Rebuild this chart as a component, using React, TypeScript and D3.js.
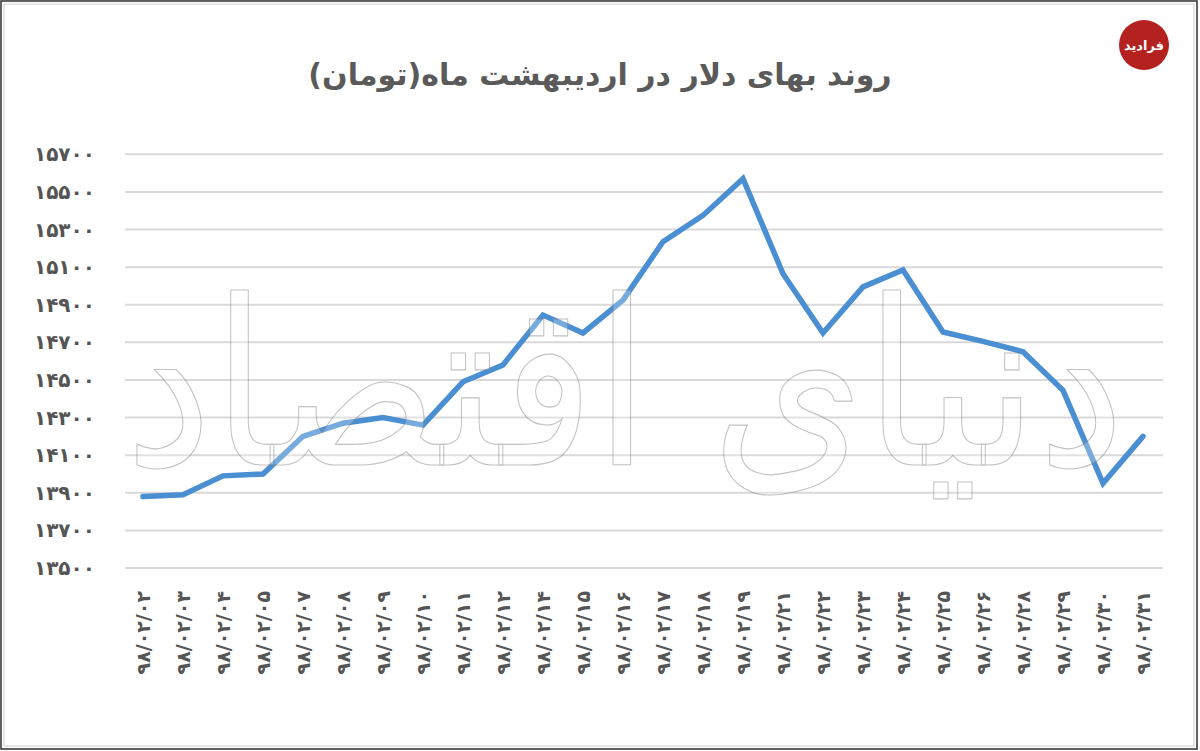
import React from "react";
import * as d3 from "d3";

const title = "روند بهای دلار در اردیبهشت ماه(تومان)";
const dates = [
  "98/02/02", "98/02/03", "98/02/04", "98/02/05", "98/02/07", "98/02/08", "98/02/09",
  "98/02/10", "98/02/11", "98/02/12", "98/02/14", "98/02/15", "98/02/16", "98/02/17",
  "98/02/18", "98/02/19", "98/02/21", "98/02/22", "98/02/23", "98/02/24", "98/02/25",
  "98/02/26", "98/02/28", "98/02/29", "98/02/30", "98/02/31",
];
const prices = [
  13880, 13890, 13990, 14000, 14200, 14270, 14300, 14260, 14490, 14580, 14845, 14750, 14925,
  15235, 15375, 15570, 15065, 14750, 14995, 15085, 14755, 14705, 14650, 14445, 13950, 14200,
];
const yTicks = [13500, 13700, 13900, 14100, 14300, 14500, 14700, 14900, 15100, 15300, 15500, 15700];

const W = 1200;
const H = 751;

const fa = (s: string | number) =>
  String(s).replace(/[0-9]/g, (d) => String.fromCharCode(0x06f0 + Number(d)));

export default function App() {
  const x = d3.scalePoint<string>().domain(dates).range([143, 1143]);
  const y = d3.scaleLinear().domain([13500, 15700]).range([568, 154.3]);
  const line = d3
    .line<number>()
    .x((_, i) => x(dates[i]) as number)
    .y((v) => y(v));

  const font = "'DejaVu Sans', sans-serif";

  return (
    <div style={{ position: "absolute", left: 0, top: 0 }}>
      <svg width={W} height={H} viewBox={`0 0 ${W} ${H}`} style={{ display: "block", background: "#fff" }}>
        <rect x={0} y={0} width={W} height={H} fill="#fff" />
        {/* frame */}
        <rect x={1} y={1} width={1196} height={748} fill="none" stroke="#3a3a3a" strokeWidth={1.6} />
        <rect x={4} y={4} width={1190} height={742} fill="none" stroke="#cfcfcf" strokeWidth={1} />

        {/* title */}
        <text
          x={600}
          y={85}
          textAnchor="middle"
          direction="rtl"
          fontFamily={font}
          fontWeight="bold"
          fontSize={30}
          fill="#5a5a5a"
        >
          {title}
        </text>

        {/* gridlines */}
        {yTicks.map((t) => (
          <line key={t} x1={125} x2={1163} y1={y(t)} y2={y(t)} stroke="#d9d9d9" strokeWidth={2} />
        ))}

        {/* y labels */}
        {yTicks.map((t) => (
          <text
            key={"l" + t}
            x={95}
            y={y(t)}
            dy="0.35em"
            textAnchor="end"
            fontFamily={font}
            fontWeight="bold"
            fontSize={20}
            fill="#555"
            letterSpacing={2}
          >
            {fa(t)}
          </text>
        ))}

        {/* x labels */}
        {dates.map((d) => (
          <text
            key={"x" + d}
            transform={`translate(${(x(d) as number) + 7},591) rotate(-90)`}
            textAnchor="end"
            fontFamily={font}
            fontWeight="bold"
            fontSize={19}
            fill="#555"
            letterSpacing={5.5}
          >
            {fa(d)}
          </text>
        ))}

        {/* series */}
        <path d={line(prices) || ""} fill="none" stroke="#4a8fd2" strokeWidth={5.5} strokeLinejoin="miter" strokeLinecap="round" />

        {/* watermark */}
        <g opacity={0.5}>
          <text
            x={625}
            y={465}
            textAnchor="middle"
            direction="rtl"
            fontFamily={font}
            fontSize={230}
            fill="#ffffff"
            fillOpacity={0.5}
            stroke="#8a8a8a"
            strokeWidth={1.2}
            textLength={1000}
            lengthAdjust="spacingAndGlyphs"
          >
            دنیای اقتصاد
          </text>
        </g>

        {/* logo */}
        <circle cx={1144} cy={45} r={25} fill="#b3221e" />
        <text
          x={1144}
          y={50}
          textAnchor="middle"
          direction="rtl"
          fontFamily={font}
          fontWeight="bold"
          fontSize={13}
          fill="#fff"
        >
          فرادید
        </text>
      </svg>
    </div>
  );
}
